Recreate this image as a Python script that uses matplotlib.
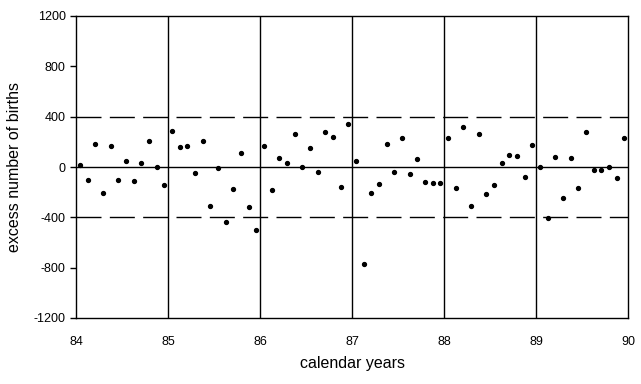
import numpy as np
import matplotlib
matplotlib.use('Agg')
import matplotlib.pyplot as plt

plt.rcParams['font.family'] = ['Liberation Sans', 'DejaVu Sans']
plt.rcParams['axes.unicode_minus'] = False

years = [84, 85, 86, 87, 88, 89]

# monthly excess births
y84 = [18, -101, 185, -204, 169, -101, 50, -109, 34, 209, 3, -141]
y85 = [289, 161, 169, -45, 209, -308, -5, -435, -172, 114, -316, -498]
y86 = [169, -180, 74, 34, 265, 3, 153, -37, 281, 241, -157, 344]
y87 = [50, -769, -204, -133, 185, -37, 233, -53, 66, -117, -125, -125]
y88 = [233, -165, 320, -308, 265, -212, -141, 34, 98, 90, -77, 177]
y89 = [3, -403, 82, -244, 74, -165, 281, -21, -21, 3, -85, 233]

excess = y84 + y85 + y86 + y87 + y88 + y89
t = [yr + (m + 0.5) / 12 for yr in years for m in range(12)]

fig = plt.figure(figsize=(6.41, 3.84), dpi=100)
ax = fig.add_axes([76/641, 1 - 318/384, (628-76)/641, (318-16)/384])

ax.plot(t, excess, 'o', color='black', markersize=2.8, zorder=3)

ax.axhline(0, color='black', lw=1)
for lim in (400, -400):
    ax.axhline(lim, color='black', lw=1, dashes=(18, 6))
for yr in years[1:]:
    ax.axvline(yr, color='black', lw=1)

ax.set_xlim(84, 90)
ax.set_ylim(-1200, 1200)
ax.set_yticks(np.arange(-1200, 1201, 400))
ax.set_xticks(range(84, 91))
ax.tick_params(axis='x', length=0, pad=13, labelsize=9)
ax.tick_params(axis='y', length=4, width=1, labelsize=9)
for s in ax.spines.values():
    s.set_linewidth(1)

ax.set_xlabel('calendar years', fontsize=11.5, labelpad=6)
ax.set_ylabel('excess number of births', fontsize=11.5, labelpad=8)

fig.savefig('out.png', dpi=100)
